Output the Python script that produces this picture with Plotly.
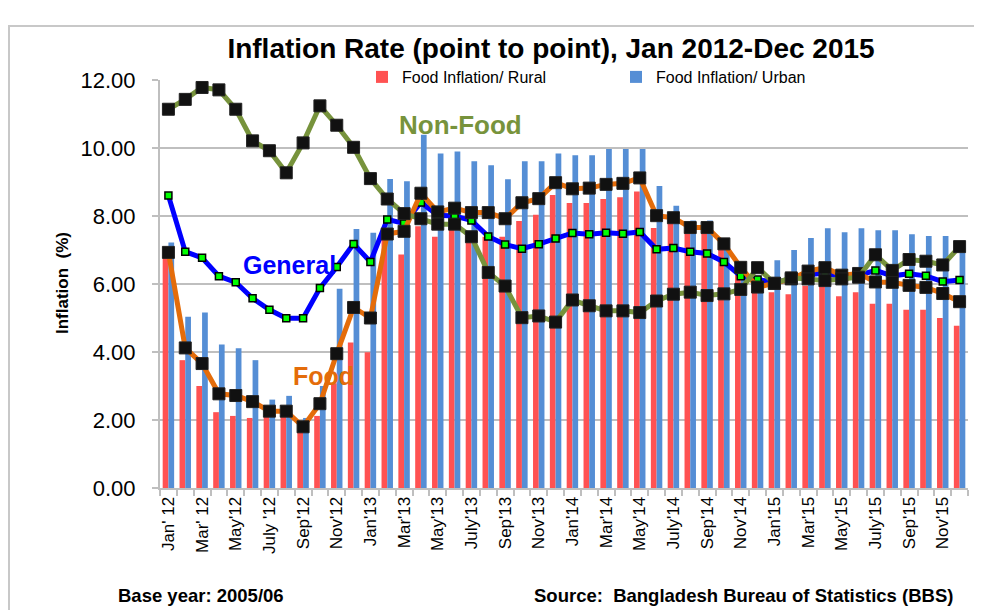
import plotly.graph_objects as go

month_names = ["Jan", "Feb", "Mar", "Apr", "May", "Jun", "Jul", "Aug", "Sep", "Oct", "Nov", "Dec"]
years = [2012, 2013, 2014, 2015]
months = [f"{m} {y}" for y in years for m in month_names]

tick_labels = ["Jan' 12", "Mar' 12", "May'12", "July '12", "Sep'12", "Nov'12",
               "Jan'13", "Mar'13", "May'13", "July'13", "Sep'13", "Nov'13",
               "Jan'14", "Mar'14", "May'14", "July'14", "Sep'14", "Nov'14",
               "Jan'15", "Mar'15", "May'15", "July'15", "Sep'15", "Nov'15"]

food_rural = [6.90, 3.76, 3.00, 2.23, 2.12, 2.06, 2.10, 2.10, 1.65, 2.12, 3.08, 4.28,
              3.99, 7.40, 6.87, 7.70, 7.39, 7.60, 7.29, 7.39, 7.39, 7.85, 8.04, 8.62,
              8.38, 8.38, 8.50, 8.55, 8.72, 7.65, 7.80, 7.57, 7.57, 7.08, 6.33, 5.80,
              5.76, 5.70, 5.95, 6.00, 5.64, 5.76, 5.42, 5.42, 5.24, 5.24, 5.00, 4.77]

food_urban = [7.22, 5.04, 5.16, 4.22, 4.11, 3.76, 2.60, 2.71, 2.06, 3.00, 5.86, 7.62,
              7.51, 9.09, 9.02, 10.39, 9.84, 9.90, 9.61, 9.49, 9.08, 9.61, 9.61, 9.84,
              9.79, 9.79, 9.97, 9.97, 9.97, 8.88, 8.30, 7.87, 7.87, 7.30, 6.60, 6.10,
              6.70, 7.00, 7.35, 7.64, 7.52, 7.64, 7.58, 7.58, 7.46, 7.41, 7.41, 7.11]

general = [8.60, 6.95, 6.77, 6.23, 6.05, 5.58, 5.24, 4.99, 4.99, 5.88, 6.50, 7.18,
           6.65, 7.90, 7.78, 8.40, 8.02, 8.00, 7.87, 7.40, 7.16, 7.04, 7.17, 7.34,
           7.50, 7.46, 7.51, 7.48, 7.53, 7.02, 7.06, 6.95, 6.90, 6.65, 6.23, 6.13,
           6.05, 6.14, 6.27, 6.32, 6.20, 6.25, 6.40, 6.24, 6.30, 6.24, 6.07, 6.12]

food = [6.93, 4.12, 3.66, 2.77, 2.72, 2.54, 2.26, 2.26, 1.80, 2.48, 3.95, 5.31,
        5.00, 7.47, 7.55, 8.67, 8.12, 8.23, 8.10, 8.10, 7.92, 8.39, 8.51, 8.98,
        8.80, 8.82, 8.93, 8.96, 9.12, 8.01, 7.95, 7.66, 7.66, 7.18, 6.49, 5.91,
        6.02, 6.15, 6.38, 6.48, 6.26, 6.31, 6.06, 6.05, 5.96, 5.90, 5.72, 5.48]

non_food = [11.14, 11.43, 11.78, 11.71, 11.14, 10.21, 9.92, 9.27, 10.15, 11.24, 10.67, 10.02,
            9.10, 8.50, 8.07, 7.92, 7.76, 7.76, 7.39, 6.34, 5.94, 5.01, 5.06, 4.88,
            5.53, 5.36, 5.21, 5.21, 5.16, 5.50, 5.70, 5.76, 5.66, 5.71, 5.84, 6.48,
            6.02, 6.18, 6.15, 6.10, 6.15, 6.20, 6.86, 6.40, 6.72, 6.67, 6.56, 7.10]

y_ticks = [0, 2, 4, 6, 8, 10, 12]

RED = "#FF5252"
BLUE_BAR = "#558ED5"
GEN_BLUE = "#0000FF"
ORANGE = "#E46C0A"
OLIVE = "#77933C"
GRID = "#BFBFBF"
FONT = "Liberation Sans, Arial, sans-serif"

fig = go.Figure()
fig.add_trace(go.Bar(x=months, y=food_rural, name="Food Inflation/ Rural",
                     marker=dict(color=RED, line=dict(width=0))))
fig.add_trace(go.Bar(x=months, y=food_urban, name="Food Inflation/ Urban",
                     marker=dict(color=BLUE_BAR, line=dict(width=0))))
fig.add_trace(go.Scatter(x=months, y=general, mode="lines+markers", showlegend=False,
                         line=dict(color=GEN_BLUE, width=5),
                         marker=dict(symbol="square", size=7, color="#00FF00",
                                     line=dict(color="black", width=1.5))))
fig.add_trace(go.Scatter(x=months, y=food, mode="lines+markers", showlegend=False,
                         line=dict(color=ORANGE, width=5),
                         marker=dict(symbol="square", size=12, color="#111111",
                                     line=dict(color="#222222", width=1))))
fig.add_trace(go.Scatter(x=months, y=non_food, mode="lines+markers", showlegend=False,
                         line=dict(color=OLIVE, width=5),
                         marker=dict(symbol="square", size=12, color="#111111",
                                     line=dict(color="#222222", width=1))))

ticktext = [tick_labels[i // 2] if i % 2 == 0 else "" for i in range(len(months))]

# The page body has an 8px margin, so the figure is laid out 8px up/left.
OFF = 8
W, H = 982 - OFF, 610 - OFF
L, R, T, B = 160 - OFF, W - (968 - OFF), 80 - OFF, H - (488 - OFF)
pw, ph = W - L - R, H - T - B

def px_x(p):
    return (p - OFF - L) / pw

def px_y(p):
    return (H - B - (p - OFF)) / ph

fig.update_layout(
    template="none",
    width=W, height=H,
    margin=dict(l=L, r=R, t=T, b=B, autoexpand=False),
    paper_bgcolor="white", plot_bgcolor="white",
    barmode="group", bargap=0.32, bargroupgap=0.0,
    font=dict(family=FONT, color="black"),
    title=dict(text="<b>Inflation Rate (point to point), Jan 2012-Dec 2015</b>",
               font=dict(family=FONT, size=28, color="black"),
               x=(551 - OFF) / W, xanchor="center", xref="container",
               y=1 - (48 - OFF) / H, yanchor="middle", yref="container"),
    legend=dict(orientation="h", xref="paper", yref="paper",
                x=px_x(362), xanchor="left", y=px_y(77), yanchor="middle",
                font=dict(family=FONT, size=16, color="black"),
                entrywidth=209, entrywidthmode="pixels", itemwidth=30,
                bgcolor="rgba(0,0,0,0)", traceorder="normal"),
    xaxis=dict(type="category", range=[-0.5, 47.5], tickmode="array",
               tickvals=months, ticktext=ticktext, tickangle=-90, automargin=False,
               tickson="boundaries", ticks="outside", ticklen=6, tickcolor=GRID,
               tickwidth=2, showline=True, linecolor=GRID, linewidth=2,
               showgrid=False, tickfont=dict(family=FONT, size=17, color="black")),
    yaxis=dict(range=[0, 12], tickmode="array", tickvals=y_ticks, tickformat=".2f",
               ticks="outside", ticklen=6, tickcolor=GRID, tickwidth=2, automargin=False,
               showline=True, linecolor=GRID, linewidth=2,
               showgrid=True, gridcolor=GRID, gridwidth=2, zeroline=False,
               ticklabelstandoff=12,
               tickfont=dict(family=FONT, size=22, color="black")),
    shapes=[
        dict(type="line", xref="paper", yref="y", x0=0.002, x1=1.0, y0=12, y1=12,
             line=dict(color="white", width=3), layer="between"),
        dict(type="rect", xref="paper", yref="paper",
             x0=px_x(9), x1=px_x(995), y0=px_y(625), y1=px_y(26),
             line=dict(color="#C8C8C8", width=2), layer="below"),
    ],
    annotations=[
        dict(text="<b>General</b>", x=7.2, y=6.55, xref="x", yref="y", showarrow=False,
             font=dict(family=FONT, size=25, color=GEN_BLUE)),
        dict(text="<b>Food</b>", x=9.2, y=3.3, xref="x", yref="y", showarrow=False,
             font=dict(family=FONT, size=25, color=ORANGE)),
        dict(text="<b>Non-Food</b>", x=17.35, y=10.68, xref="x", yref="y", showarrow=False,
             font=dict(family=FONT, size=26, color=OLIVE)),
        dict(text="<b>Inflation  (%)</b>", x=px_x(62), y=px_y(283), xref="paper", yref="paper",
             xanchor="center", yanchor="middle",
             showarrow=False, textangle=-90, font=dict(family=FONT, size=17, color="black")),
        dict(text="<b>Base year: 2005/06</b>", x=px_x(116), y=px_y(595), xref="paper", yref="paper",
             xanchor="left", yanchor="middle", showarrow=False,
             font=dict(family=FONT, size=18.5, color="black")),
        dict(text="<b>Source:  Bangladesh Bureau of Statistics (BBS)</b>", x=px_x(955), y=px_y(595),
             xref="paper", yref="paper", xanchor="right", yanchor="middle", showarrow=False,
             font=dict(family=FONT, size=18.5, color="black")),
    ],
)

fig.write_html("out.html")
